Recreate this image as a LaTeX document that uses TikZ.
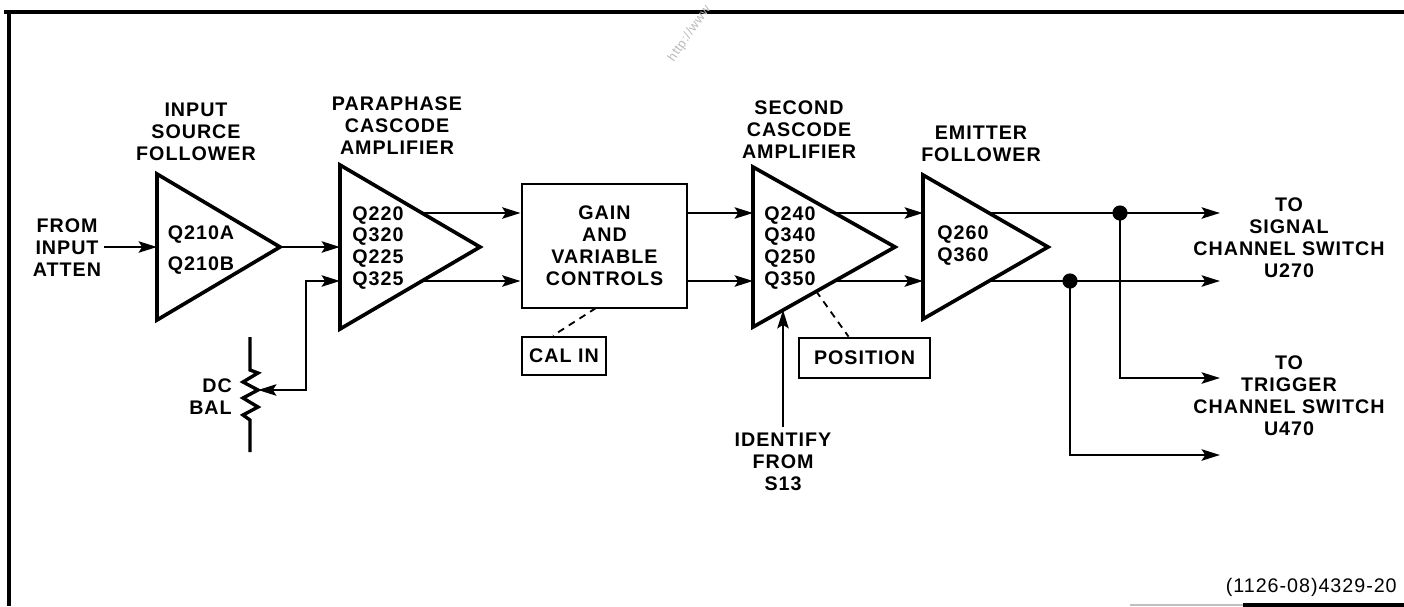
\documentclass[tikz,border=0pt]{standalone}
\usepackage{fontspec}
\newfontfamily\diagfont{Liberation Sans}[LetterSpace=5]
\usetikzlibrary{arrows.meta, calc}

\tikzset{
    txt/.style={font=\diagfont\bfseries\fontsize{14}{15.6}\selectfont, align=center, inner sep=0pt},
    amp/.style={line width=2.6pt, line join=miter},
    wire/.style={line width=2pt},
    flow/.style={wire, -{Stealth[length=13pt, width=8pt, inset=2.5pt]}},
    ctl/.style={line width=1.3pt, dash pattern=on 5pt off 4pt},
    tagbox/.style={txt, draw, line width=2pt},
}

\begin{document}
\begin{tikzpicture}[x=0.025cm, y=-0.025cm]
    \useasboundingbox (0,0) rectangle (1404,606);

    % Frame
    \draw[line width=3.5pt] (4,12) -- (1404,12);
    \draw[line width=3.5pt] (9,12) -- (9,606);
    \draw[line width=2pt, gray!50] (1130,605) -- (1243,605);
    \draw[line width=3pt] (1243,605) -- (1404,605);
    \node[rotate=55, text=gray!55, font=\diagfont\fontsize{9}{10}\selectfont, anchor=south west, inner sep=0pt] (wm) at (676,64) {http://www};

    % Input source follower
    \coordinate (sf-top) at (157,174);
    \coordinate (sf-out) at (280,247);
    \coordinate (sf-bot) at (157,320);
    \coordinate (sf-in) at (157,247);
    \draw[amp] (sf-top) -- (sf-out) -- (sf-bot) -- cycle;
    \node[txt] (sf-title) at (196,132) {INPUT\\SOURCE\\FOLLOWER};
    \node[txt] (sf-q) at (201,250) {Q210A\\[0.22cm]Q210B};
    \node[txt] (src) at (67,248) {FROM\\INPUT\\ATTEN};
    \draw[flow, shorten <=2pt] (src.east |- sf-in) -- (sf-in);

    % Paraphase cascode amplifier
    \coordinate (pp-top) at (340,165);
    \coordinate (pp-out) at (480,247);
    \coordinate (pp-bot) at (340,329);
    \coordinate (pp-in1) at (340,247);
    \coordinate (pp-in2) at (340,281);
    \coordinate (pp-hi) at (422,213);
    \coordinate (pp-lo) at (422,281);
    \draw[amp] (pp-top) -- (pp-out) -- (pp-bot) -- cycle;
    \node[txt] (pp-title) at (397,126) {PARAPHASE\\CASCODE\\AMPLIFIER};
    \node[txt, align=left] (pp-q) at (378,248) {Q220\\Q320\\Q225\\Q325};
    \draw[flow] (sf-out) -- (pp-in1);

    % DC BAL pot
    \coordinate (bal-wiper) at (258,390);
    \coordinate (bal-tap) at (306,281);
    \draw[wire, line width=2.4pt, line join=miter] (250,337) -- (250,370) -- (258,373) -- (243,382)
        -- (bal-wiper) -- (243,398) -- (258,407) -- (243,415) -- (250,420) -- (250,452);
    \node[txt, align=right, anchor=east] (dcbal) at (232,397) {DC\\BAL};
    \draw[wire, {Stealth[length=13pt, width=8pt, inset=2.5pt]}-{Stealth[length=13pt, width=8pt, inset=2.5pt]}]
        (bal-wiper) -| (bal-tap) -- (pp-in2);

    % Gain and variable controls
    \node[txt, draw, line width=2pt, minimum width=4.125cm, minimum height=3.1cm] (gain) at (604.5,246)
        {GAIN\\AND\\VARIABLE\\CONTROLS};
    \draw[flow] (pp-hi) -- (pp-hi -| gain.west);
    \draw[flow] (pp-lo) -- (pp-lo -| gain.west);
    \node[tagbox, minimum width=2.1cm, minimum height=0.95cm] (calin) at (564,356) {CAL IN};
    \coordinate (cal-pick) at (596,308);
    \draw[ctl] (cal-pick) -- ($(calin.north)+(-11,0)$);

    % Second cascode amplifier
    \coordinate (sc-top) at (753,167);
    \coordinate (sc-out) at (895,247);
    \coordinate (sc-bot) at (753,327);
    \coordinate (sc-in1) at (753,213);
    \coordinate (sc-in2) at (753,281);
    \coordinate (sc-hi) at (835,213);
    \coordinate (sc-lo) at (835,281);
    \draw[amp] (sc-top) -- (sc-out) -- (sc-bot) -- cycle;
    \node[txt] (sc-title) at (799,130) {SECOND\\CASCODE\\AMPLIFIER};
    \node[txt, align=left] (sc-q) at (790,248) {Q240\\Q340\\Q250\\Q350};
    \draw[flow] (gain.east |- sc-in1) -- (sc-in1);
    \draw[flow] (gain.east |- sc-in2) -- (sc-in2);
    \node[tagbox, minimum width=3.275cm, minimum height=1cm] (pos) at (864.5,358) {POSITION};
    \coordinate (pos-pick) at (816,291);
    \draw[ctl] (pos-pick) -- ($(pos.north)+(-16,0)$);
    \coordinate (id-pick) at (783,310);
    \node[txt, text depth=0pt] (ident) at (783,462) {IDENTIFY\\FROM\\S13};
    \draw[flow, shorten <=4pt] (ident.north) -- (id-pick);

    % Emitter follower
    \coordinate (ef-top) at (923,175);
    \coordinate (ef-out) at (1048,247);
    \coordinate (ef-bot) at (923,319);
    \coordinate (ef-in1) at (923,213);
    \coordinate (ef-in2) at (923,281);
    \coordinate (ef-hi) at (989,213);
    \coordinate (ef-lo) at (989,281);
    \draw[amp] (ef-top) -- (ef-out) -- (ef-bot) -- cycle;
    \node[txt] (ef-title) at (981,144) {EMITTER\\FOLLOWER};
    \node[txt, align=left] (ef-q) at (963,246) {Q260\\Q360};
    \draw[flow] (sc-hi) -- (ef-in1);
    \draw[flow] (sc-lo) -- (ef-in2);

    % Outputs
    \coordinate (tap-hi) at (1120,213);
    \coordinate (tap-lo) at (1070,281);
    \coordinate (sig-hi) at (1220,213);
    \coordinate (sig-lo) at (1220,281);
    \coordinate (trig-hi) at (1220,378);
    \coordinate (trig-lo) at (1220,455);
    \draw[flow] (ef-hi) -- (sig-hi);
    \draw[flow] (ef-lo) -- (sig-lo);
    \draw[flow] (tap-hi) |- (trig-hi);
    \draw[flow] (tap-lo) |- (trig-lo);
    \fill (tap-hi) circle[radius=0.19cm];
    \fill (tap-lo) circle[radius=0.19cm];
    \node[txt] (sig-out) at (1289,238) {TO\\SIGNAL\\CHANNEL SWITCH\\U270};
    \node[txt] (trig-out) at (1289,396) {TO\\TRIGGER\\CHANNEL SWITCH\\U470};

    % Figure number
    \node[txt, font=\diagfont\fontsize{14}{15.6}\selectfont, anchor=east] (fig-no) at (1397,587) {(1126-08)4329-20};
\end{tikzpicture}
\end{document}
